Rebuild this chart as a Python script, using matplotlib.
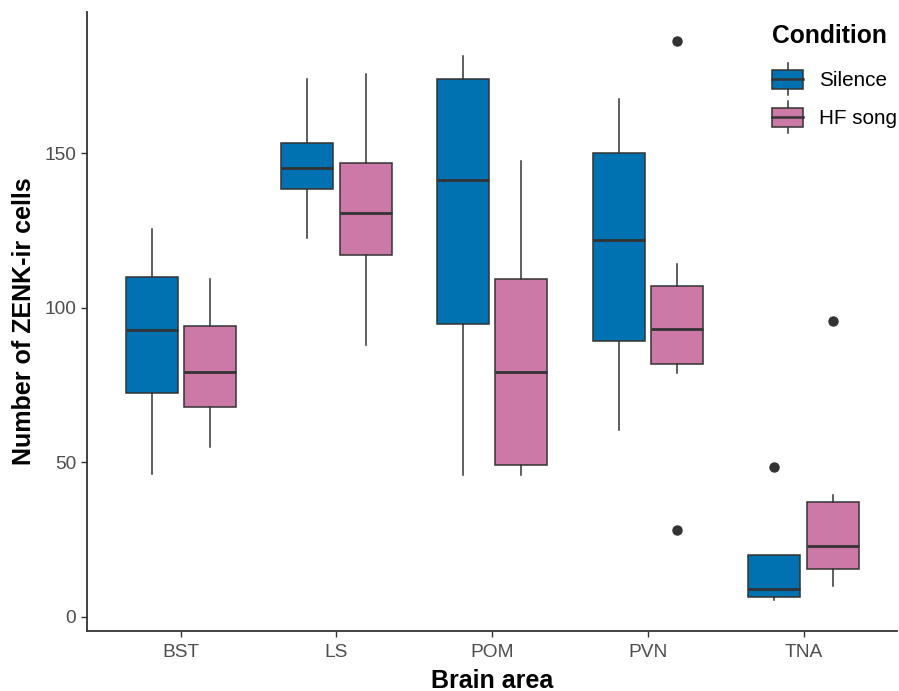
import matplotlib
matplotlib.use("Agg")
import matplotlib.pyplot as plt
from matplotlib.legend_handler import HandlerBase
from matplotlib.lines import Line2D
from matplotlib.patches import Rectangle, Patch

plt.rcParams["font.family"] = ["Liberation Sans", "DejaVu Sans"]

# ── data ──────────────────────────────────────────────────────────────────────
areas = ["BST", "LS", "POM", "PVN", "TNA"]
conditions = ["Silence", "HF song"]

silence_lo = [46.3, 122.6, 45.9, 60.5, 5.3]
silence_q1 = [72.5, 138.4, 94.7, 89.3, 6.4]
silence_med = [92.7, 145.2, 141.3, 122.0, 8.9]
silence_q3 = [109.9, 153.5, 174.0, 150.3, 19.9]
silence_hi = [125.5, 174.1, 181.7, 167.6, 19.9]
silence_out = [[], [], [], [], [48.6]]

hf_lo = [55.0, 88.1, 45.9, 78.8, 10.0]
hf_q1 = [68.0, 117.2, 49.1, 81.7, 15.5]
hf_med = [79.2, 130.8, 79.2, 93.2, 22.9]
hf_q3 = [94.1, 147.0, 109.3, 107.1, 37.2]
hf_hi = [109.4, 175.8, 147.6, 114.1, 39.4]
hf_out = [[], [], [], [186.5, 28.0], [95.8]]

y_ticks = [0, 50, 100, 150]

# ── style ────────────────────────────────────────────────────────────────────
COLORS = {"Silence": "#0072B2", "HF song": "#CC79A7"}
EDGE = "#333333"
TICK_TXT = "#4D4D4D"
DODGE = 0.1875
BOX_W = 0.334


def make_stats(lo, q1, med, q3, hi, out):
    return [dict(whislo=a, q1=b, med=c, q3=d, whishi=e, fliers=f)
            for a, b, c, d, e, f in zip(lo, q1, med, q3, hi, out)]


class BoxHandler(HandlerBase):
    """ggplot-like legend key: small box with median and whiskers."""
    def create_artists(self, legend, orig_handle, xdescent, ydescent,
                       width, height, fontsize, trans):
        x0, y0 = -xdescent, -ydescent
        cx = x0 + width / 2
        b0, b1 = y0 + height * 0.2, y0 + height * 0.8
        whisk = Line2D([cx, cx], [y0, y0 + height], color=EDGE, lw=1.1,
                       transform=trans)
        rect = Rectangle((x0, b0), width, b1 - b0,
                         facecolor=orig_handle.get_facecolor(),
                         edgecolor=EDGE, lw=1.1, transform=trans)
        med = Line2D([x0, x0 + width], [(b0 + b1) / 2] * 2, color=EDGE,
                     lw=1.8, transform=trans)
        return [whisk, rect, med]


fig = plt.figure(figsize=(8.99, 6.91), dpi=100, facecolor="white")
ax = fig.add_axes([87.3 / 899, 1 - 630.7 / 691, 809.7 / 899, 618.7 / 691])

groups = [
    ("Silence", make_stats(silence_lo, silence_q1, silence_med, silence_q3,
                           silence_hi, silence_out), -DODGE),
    ("HF song", make_stats(hf_lo, hf_q1, hf_med, hf_q3, hf_hi, hf_out), DODGE),
]

for name, stats, off in groups:
    pos = [i + 1 + off for i in range(len(areas))]
    ax.bxp(
        stats, positions=pos, widths=BOX_W, patch_artist=True,
        showcaps=False,
        boxprops=dict(facecolor=COLORS[name], edgecolor=EDGE, linewidth=1.1),
        whiskerprops=dict(color=EDGE, linewidth=1.1),
        medianprops=dict(color=EDGE, linewidth=2.0),
        flierprops=dict(marker="o", markerfacecolor=EDGE, markeredgecolor=EDGE,
                        markersize=6.5),
        manage_ticks=False,
    )

ax.set_xlim(0.4, len(areas) + 0.6)
ax.set_ylim(-4.5, 195.8)
ax.set_xticks(range(1, len(areas) + 1))
ax.set_xticklabels(areas)
ax.set_yticks(y_ticks)

for side in ("top", "right"):
    ax.spines[side].set_visible(False)
for side in ("left", "bottom"):
    ax.spines[side].set_color(EDGE)
    ax.spines[side].set_linewidth(1.3)

ax.tick_params(colors=EDGE, labelcolor=TICK_TXT, labelsize=13.8,
               length=4.5, width=1.0)
ax.tick_params(axis="x", pad=5)
ax.tick_params(axis="y", pad=3.5)

ax.set_xlabel("Brain area", fontsize=18, fontweight="bold", labelpad=5.5)
ax.set_ylabel("Number of ZENK-ir cells", fontsize=18, fontweight="bold",
              labelpad=6)

handles = [Patch(facecolor=COLORS[c], edgecolor=EDGE) for c in conditions]
leg = ax.legend(
    handles, conditions, handler_map={Patch: BoxHandler()},
    title="Condition", title_fontproperties={"weight": "bold", "size": 17.7},
    fontsize=14.9, frameon=False, loc="upper left",
    bbox_to_anchor=(772 / 899, 1 - 24 / 691), bbox_transform=fig.transFigure,
    borderpad=0, borderaxespad=0, handlelength=1.5, handleheight=2.0,
    labelspacing=0.29, handletextpad=0.76, alignment="left",
)
# extra gap between the legend title and its keys, as in ggplot
leg._legend_box.sep = 10.9

fig.savefig("out.png", dpi=100, facecolor="white")
